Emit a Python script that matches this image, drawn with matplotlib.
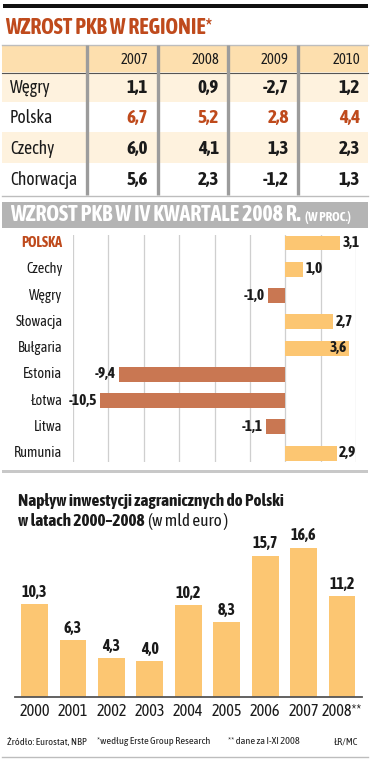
import matplotlib
matplotlib.use("Agg")
import matplotlib.pyplot as plt
from matplotlib.patches import Rectangle

plt.rcParams['font.family'] = ['Asap Condensed', 'DejaVu Sans']

# ---------------- data ----------------
table_years = ["2007", "2008", "2009", "2010"]
table_countries = ["Węgry", "Polska", "Czechy", "Chorwacja"]
table_values = [
    ["1,1", "0,9", "-2,7", "1,2"],
    ["6,7", "5,2", "2,8", "4,4"],
    ["6,0", "4,1", "1,3", "2,3"],
    ["5,6", "2,3", "-1,2", "1,3"],
]

q4_countries = ["POLSKA", "Czechy", "Węgry", "Słowacja", "Bułgaria",
                "Estonia", "Łotwa", "Litwa", "Rumunia"]
q4_values = [3.1, 1.0, -1.0, 2.7, 3.6, -9.4, -10.5, -1.1, 2.9]

fdi_years = ["2000", "2001", "2002", "2003", "2004", "2005", "2006", "2007", "2008**"]
fdi_values = [10.3, 6.3, 4.3, 4.0, 10.2, 8.3, 15.7, 16.6, 11.2]

# ---------------- colours ----------------
RED = "#bf4a1c"
POS = "#fcc672"
NEG = "#c97752"
HEAD = "#fddfae"
ROW = "#fef2de"
GREY_BAND = "#b4b4b4"
SEP = "#9c9c9c"
INK = "#1a1a1a"

W, H = 374, 760
fig = plt.figure(figsize=(W / 100, H / 100), dpi=100)
fig.patch.set_facecolor("white")
renderer = fig.canvas.get_renderer()


def fs_for(s, target, weight="normal", base=10.0):
    t = fig.text(0, 0, s, fontsize=base, fontweight=weight)
    w = t.get_window_extent(renderer).width
    t.remove()
    return base * target / w


def ax_px(x0, y0, x1, y1, **kw):
    return fig.add_axes([x0 / W, 1 - y1 / H, (x1 - x0) / W, (y1 - y0) / H], **kw)


# font sizes fitted to measured widths in the reference
FS_T1 = fs_for("WZROST PKB W REGIONIE*", 208, "bold")
FS_T2 = fs_for("WZROST PKB W IV KWARTALE 2008 R.", 290, "bold")
FS_PROC = fs_for("(W PROC.)", 46, "bold")
FS_YR = fs_for("2007", 27)
FS_TLAB = fs_for("Chorwacja", 67)
FS_TVAL = fs_for("-2,7", 26, "bold")
FS_HLAB = fs_for("Słowacja", 47)
FS_HVAL = fs_for("-10,5", 28, "bold")
FS_T3 = fs_for("Napływ inwestycji zagranicznych do Polski", 265, "bold")
FS_VVAL = fs_for("10,3", 25, "bold")
FS_VTICK = fs_for("2000", 30)
FS_FOOT = fs_for("Źródło: Eurostat, NBP", 80)

# overlay in pixel coordinates for decorations
ov = ax_px(0, 0, W, H)
ov.set_xlim(0, W)
ov.set_ylim(H, 0)
ov.axis("off")
ov.set_zorder(0)

# ---------------- section 1: table ----------------
ov.add_patch(Rectangle((3, 4), 365, 3.5, color="#111111", lw=0))
ov.text(5, 28, "WZROST PKB W REGIONIE*", color=RED, fontsize=FS_T1,
        fontweight="bold", va="center", ha="left")

row_top = [45, 72, 102, 132, 163]
row_bot = [72, 102, 132, 163, 195]
fills = [HEAD, ROW, "white", ROW, "white"]
for t, b, f in zip(row_top, row_bot, fills):
    ov.add_patch(Rectangle((2, t), 366, b - t, color=f, lw=0))
ov.plot([2, 368], [44.5, 44.5], color="#bdbdbd", lw=1)
ov.plot([2, 368], [72.5, 72.5], color="#555555", lw=0.8)
ov.plot([2, 368], [195.5, 195.5], color="#bdbdbd", lw=1)
col_sep = [87, 158, 228, 298]
for xs_ in col_sep:
    ov.plot([xs_, xs_], [45, 195], color=SEP, lw=2.4, solid_capstyle="butt")
col_right = [148, 219, 289, 360]
ycent = [(t + b) / 2 for t, b in zip(row_top, row_bot)]
for xr, yr in zip(col_right, table_years):
    ov.text(xr, ycent[0] + 1, yr, fontsize=FS_YR, ha="right", va="center", color=INK)
for i, c in enumerate(table_countries):
    yc = ycent[i + 1] + 1
    ov.text(10, yc, c, fontsize=FS_TLAB, ha="left", va="center", color=INK)
    for j, v in enumerate(table_values[i]):
        ov.text(col_right[j], yc, v, fontsize=FS_TVAL, fontweight="bold", ha="right",
                va="center", color=RED if c == "Polska" else INK)

# ---------------- section 2: horizontal bars ----------------
ov.add_patch(Rectangle((2, 202), 366, 26, color=GREY_BAND, lw=0))
ov.text(10, 215, "WZROST PKB W IV KWARTALE 2008 R.", color="white",
        fontsize=FS_T2, fontweight="bold", va="center", ha="left")
ov.text(305, 217, "(W PROC.)", color="white", fontsize=FS_PROC, fontweight="bold",
        va="center", ha="left")
ov.add_patch(Rectangle((2, 470), 366, 3, color="#c8c8c8", lw=0))

axh = ax_px(73, 235, 356, 462)
axh.set_zorder(1)
axh.patch.set_alpha(0)
n = len(q4_countries)
ypos = list(range(n))
colors = [POS if v >= 0 else NEG for v in q4_values]
axh.barh(ypos, q4_values, height=0.57, color=colors, zorder=2)
axh.set_xlim(-12, 4)
axh.set_ylim(8.34, -0.305)
for gx in range(-12, 5, 2):
    axh.axvline(gx, color="#cfcfcf", lw=0.9, zorder=1)
for s in axh.spines.values():
    s.set_visible(False)
axh.set_xticks([])
axh.set_yticks([])
for i, (c, v) in enumerate(zip(q4_countries, q4_values)):
    lab = f"{v:.1f}".replace(".", ",")
    if c == "POLSKA":
        axh.text(-12.6, i, c, ha="right", va="center", fontsize=FS_HLAB,
                 fontweight="bold", color=RED)
    else:
        axh.text(-12.6, i, c, ha="right", va="center", fontsize=FS_HLAB, color=INK)
    if v >= 0:
        if v + 0.9 > 4:
            axh.text(v - 0.1, i, lab, ha="right", va="center", fontsize=FS_HVAL,
                     fontweight="bold", color=INK, zorder=3)
        else:
            axh.text(v + 0.15, i, lab, ha="left", va="center", fontsize=FS_HVAL,
                     fontweight="bold", color=INK, zorder=3)
    else:
        axh.text(v - 0.15, i, lab, ha="right", va="center", fontsize=FS_HVAL,
                 fontweight="bold", color=INK, zorder=3)

# ---------------- section 3: vertical bars ----------------
ov.text(18, 501, "Napływ inwestycji zagranicznych do Polski", fontsize=FS_T3,
        fontweight="bold", ha="left", va="center", color=INK)
tb = ov.text(18, 521, "w latach 2000–2008", fontsize=FS_T3, fontweight="bold",
             ha="left", va="center", color=INK)
x_after = tb.get_window_extent(renderer).x1
ov.text(x_after + 4, 521, "(w mld euro )", fontsize=FS_T3, ha="left",
        va="center", color=INK)

axv = ax_px(15, 540, 362, 697)
axv.set_zorder(1)
axv.patch.set_alpha(0)
xs = list(range(len(fdi_values)))
axv.bar(xs, fdi_values, width=0.7, color=POS, zorder=2)
axv.set_xlim(-0.508, 8.52)
axv.set_ylim(0, 17.44)
for s in ["top", "right", "left"]:
    axv.spines[s].set_visible(False)
axv.spines["bottom"].set_color("#555555")
axv.spines["bottom"].set_linewidth(1.3)
axv.set_yticks([])
axv.set_xticks(xs)
axv.set_xticklabels(fdi_years, fontsize=FS_VTICK, color=INK)
axv.tick_params(axis="x", length=0, pad=4)
for x, v in zip(xs, fdi_values):
    axv.annotate(f"{v:.1f}".replace(".", ","), (x, v), xytext=(0, 3),
                 textcoords="offset points", ha="center", va="bottom",
                 fontsize=FS_VVAL, fontweight="bold", color=INK)

# footer
ov.text(7, 742, "Źródło: Eurostat, NBP", fontsize=FS_FOOT, ha="left", va="center", color="#222222")
ov.text(97, 742, "*według Erste Group Research", fontsize=FS_FOOT, ha="left", va="center", color="#222222")
ov.text(228, 742, "** dane za I-XI 2008", fontsize=FS_FOOT, ha="left", va="center", color="#222222")
ov.text(358, 742, "ŁR/MC", fontsize=FS_FOOT, ha="right", va="center", color="#222222")
ov.plot([2, 368], [757, 757], color="#bdbdbd", lw=1)

fig.savefig("out.png", dpi=100)
